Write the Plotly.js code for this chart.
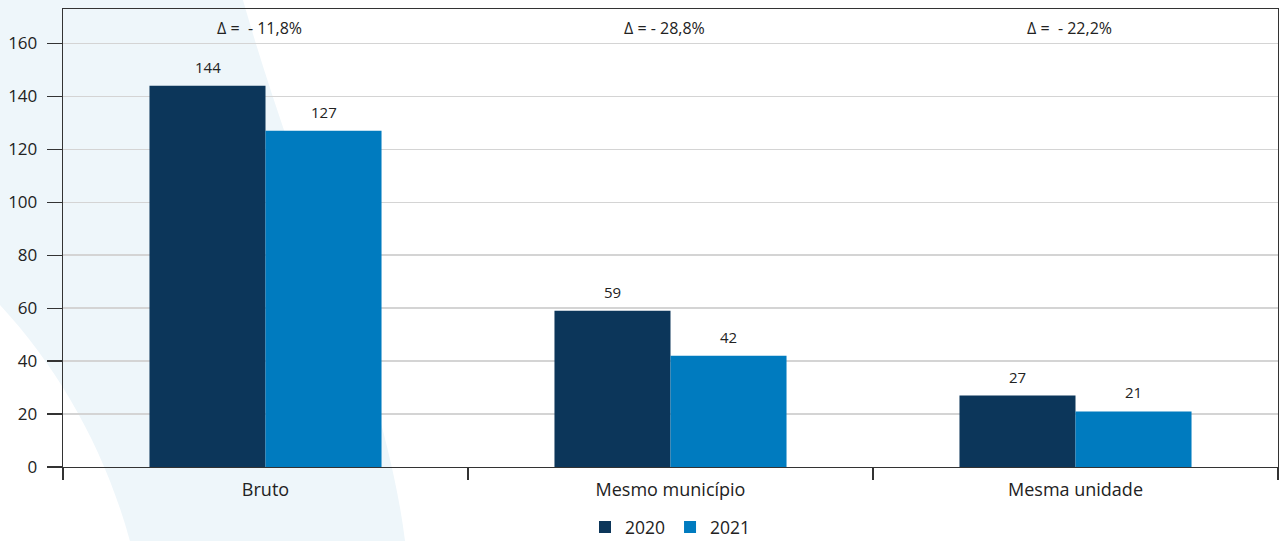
<!DOCTYPE html>
<html>
<head>
<meta charset="utf-8">
<script src="https://cdn.plot.ly/plotly-3.0.1.min.js"></script>
<style>
html,body{margin:0;padding:0;background:#fff;}
#chart{width:1279px;height:541px;}
</style>
</head>
<body>
<div id="chart"></div>
<script>
const categories = ["Bruto", "Mesmo município", "Mesma unidade"];
const values2020 = [144, 59, 27];
const values2021 = [127, 42, 21];
const seriesNames = ["2020", "2021"];
const deltaLabels = ["Δ =\u00a0\u00a0- 11,8%", "Δ = - 28,8%", "Δ =\u00a0\u00a0- 22,2%"];

const W = 1279, H = 541;
const M = {l: 63, r: 1, t: 9, b: 74, autoexpand: false};
const pw = W - M.l - M.r, ph = H - M.t - M.b;
function px(x){ return ((x - M.l) / pw).toFixed(4); }
function py(y){ return ((H - M.b - y) / ph).toFixed(4); }

// decorative background swoosh (pixel outline converted to paper coords)
const swoosh = "M" + px(0) + "," + py(0) +
  " L" + px(243) + "," + py(0) +
  " C" + px(300) + "," + py(200) + " " + px(385) + "," + py(380) + " " + px(405) + "," + py(541) +
  " L" + px(130) + "," + py(541) +
  " C" + px(105) + "," + py(450) + " " + px(60) + "," + py(370) + " " + px(0) + "," + py(305) + " Z";

const FAMILY = "Open Sans, Noto Sans, sans-serif";
const labelFont = {family: FAMILY, size: 15, color: "#222"};
const deltaFont = {family: FAMILY, size: 16, color: "#222"};
const BAR_HALF = 58; // half of one bar's pixel width, for value labels

const data = [
  {type: "bar", name: seriesNames[0], x: categories, y: values2020,
   marker: {color: "#0c365a"}, hoverinfo: "x+y"},
  {type: "bar", name: seriesNames[1], x: categories, y: values2021,
   marker: {color: "#007bbf"}, hoverinfo: "x+y"}
];

const annotations = categories.map((c, i) => ({
  x: c, y: 166, xref: "x", yref: "y", text: deltaLabels[i], showarrow: false,
  xshift: -6, font: deltaFont
}));
[values2020, values2021].forEach((vals, s) => {
  vals.forEach((v, i) => {
    annotations.push({
      x: categories[i], y: v, xref: "x", yref: "y", text: String(v), showarrow: false,
      xshift: s === 0 ? -BAR_HALF : BAR_HALF, yanchor: "bottom", yshift: 7, font: labelFont
    });
  });
});

const layout = {
  width: W, height: H,
  margin: M,
  paper_bgcolor: "#ffffff",
  plot_bgcolor: "rgba(0,0,0,0)",
  font: {family: FAMILY, size: 17, color: "#222"},
  barmode: "group",
  bargap: 0.427,
  bargroupgap: 0,
  showlegend: true,
  legend: {orientation: "h", x: 0.5, xanchor: "center", y: -0.092, yanchor: "top",
           font: {size: 17.5, color: "#222"}, traceorder: "normal"},
  xaxis: {
    type: "category", tickson: "boundaries", ticks: "outside", ticklen: 12, tickwidth: 1.3,
    tickcolor: "#333", showline: true, linecolor: "#333", linewidth: 1.3, mirror: true,
    showgrid: false, tickfont: {size: 18, color: "#222"}, ticklabelstandoff: 6,
    automargin: false, fixedrange: true
  },
  yaxis: {
    range: [0, 173], tickvals: [0, 20, 40, 60, 80, 100, 120, 140, 160],
    ticks: "outside", ticklen: 15, tickwidth: 1.3, tickcolor: "#333",
    showline: true, linecolor: "#333", linewidth: 1.3, mirror: true,
    showgrid: true, gridcolor: "#d4d4d4", gridwidth: 1.5, zeroline: false,
    tickfont: {size: 17, color: "#222"}, ticklabelstandoff: 6,
    automargin: false, fixedrange: true
  },
  shapes: [{type: "path", xref: "paper", yref: "paper", path: swoosh, layer: "below",
            fillcolor: "#eef6fa", line: {width: 0}}],
  annotations: annotations
};

Plotly.newPlot("chart", data, layout, {displayModeBar: false, staticPlot: true});
</script>
</body>
</html>
